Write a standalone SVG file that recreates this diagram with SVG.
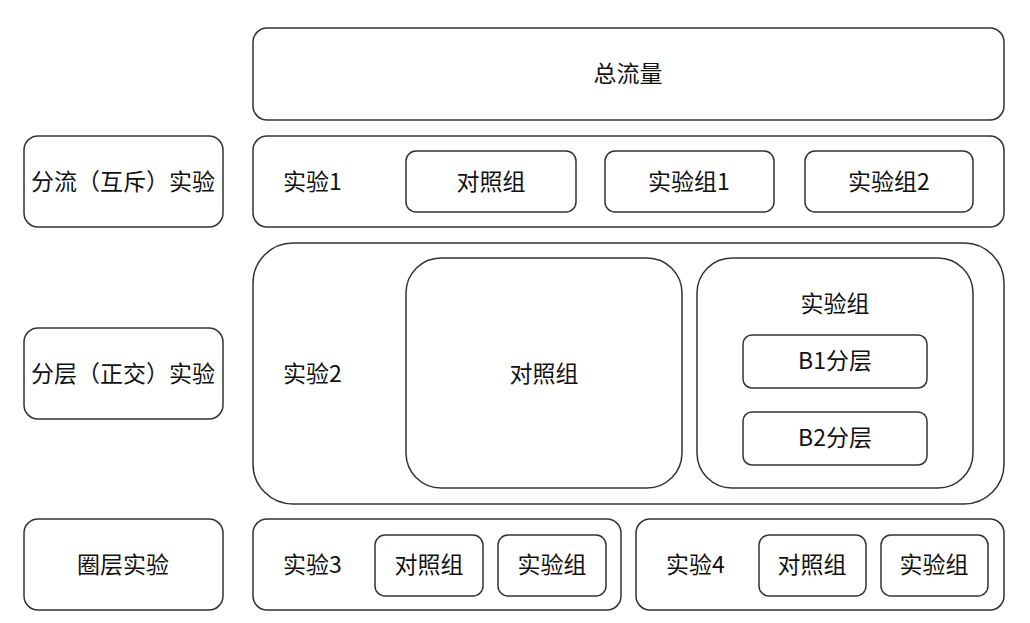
<svg xmlns="http://www.w3.org/2000/svg" width="1030" height="623" viewBox="0 0 1030 623">
<style>
rect{fill:#fff;stroke:#333;stroke-width:1.5}
text{font-family:"Noto Sans CJK SC","Liberation Sans",sans-serif;font-size:23px;fill:#111;dominant-baseline:central}
.c{text-anchor:middle}
</style>
<rect x="0" y="0" width="1030" height="623" style="stroke:none"/>
<g id="total"><rect x="253" y="28" width="751" height="92" rx="14"/><text class="c" x="628" y="72">总流量</text></g>
<g id="label1"><rect x="24" y="136" width="199" height="91" rx="14"/><text class="c" x="123" y="180">分流（互斥）实验</text></g>
<g id="label2"><rect x="24" y="328" width="199" height="91" rx="14"/><text class="c" x="123" y="372">分层（正交）实验</text></g>
<g id="label3"><rect x="24" y="519" width="199" height="91" rx="14"/><text class="c" x="123" y="563">圈层实验</text></g>
<g id="exp1"><rect x="253" y="136" width="751" height="91" rx="14"/><text x="283" y="180">实验1</text>
<g id="exp1-ctrl"><rect x="406" y="151" width="170" height="61" rx="10"/><text class="c" x="491" y="180">对照组</text></g>
<g id="exp1-g1"><rect x="605" y="151" width="169" height="61" rx="10"/><text class="c" x="689" y="180">实验组1</text></g>
<g id="exp1-g2"><rect x="805" y="151" width="168" height="61" rx="10"/><text class="c" x="889" y="180">实验组2</text></g>
</g>
<g id="exp2"><rect x="253" y="243" width="751" height="261" rx="40"/><text x="283" y="372">实验2</text>
<g id="exp2-ctrl"><rect x="406" y="258" width="276" height="230" rx="35"/><text class="c" x="544" y="372">对照组</text></g>
<g id="exp2-grp"><rect x="697" y="258" width="276" height="230" rx="35"/><text class="c" x="835" y="302">实验组</text>
<g id="b1"><rect x="743" y="335" width="184" height="53" rx="9"/><text class="c" x="835" y="359">B1分层</text></g>
<g id="b2"><rect x="743" y="412" width="184" height="53" rx="9"/><text class="c" x="835" y="436">B2分层</text></g>
</g>
</g>
<g id="exp3"><rect x="253" y="519" width="368" height="91" rx="14"/><text x="283" y="563">实验3</text>
<g id="exp3-ctrl"><rect x="375" y="535" width="108" height="61" rx="10"/><text class="c" x="429" y="563">对照组</text></g>
<g id="exp3-grp"><rect x="498" y="535" width="108" height="61" rx="10"/><text class="c" x="552" y="563">实验组</text></g>
</g>
<g id="exp4"><rect x="636" y="519" width="368" height="91" rx="14"/><text x="666" y="563">实验4</text>
<g id="exp4-ctrl"><rect x="759" y="535" width="107" height="61" rx="10"/><text class="c" x="812" y="563">对照组</text></g>
<g id="exp4-grp"><rect x="881" y="535" width="107" height="61" rx="10"/><text class="c" x="934" y="563">实验组</text></g>
</g>
<g id="connectors"></g>
</svg>
